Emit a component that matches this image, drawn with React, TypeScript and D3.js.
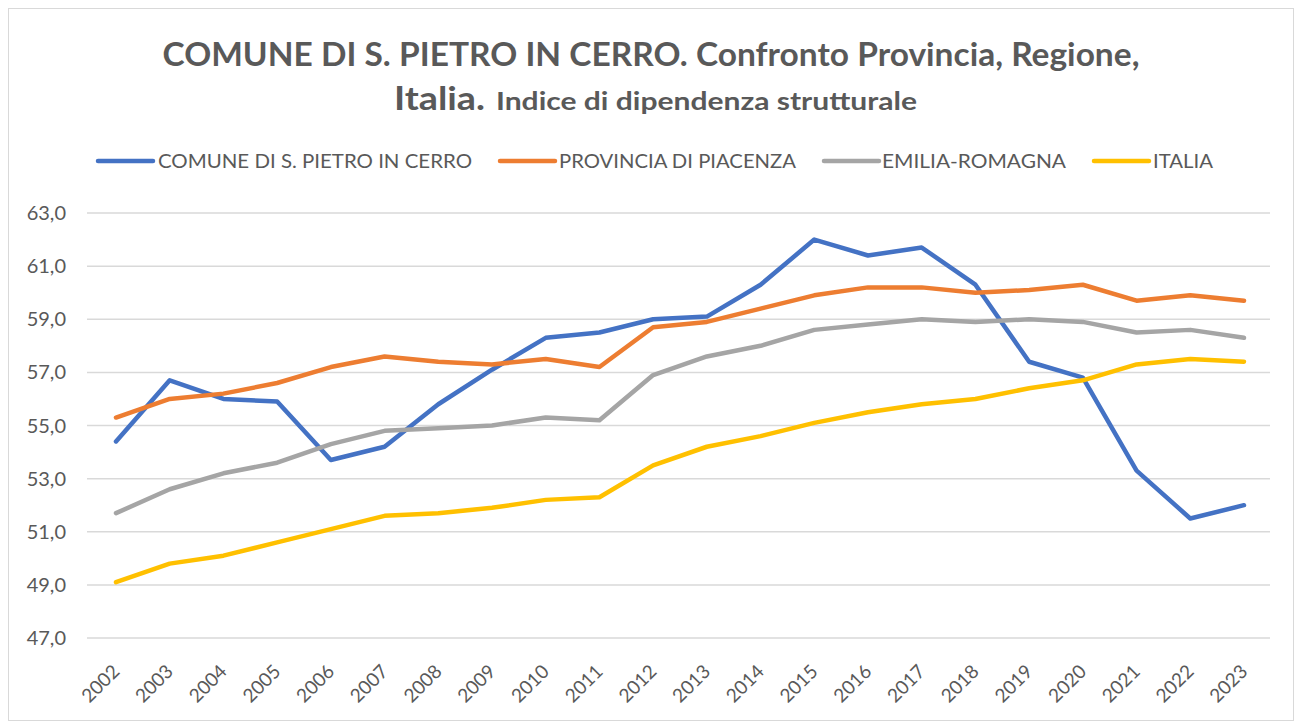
import React from "react";
import * as d3 from "d3";

const years = ["2002","2003","2004","2005","2006","2007","2008","2009","2010","2011","2012","2013","2014","2015","2016","2017","2018","2019","2020","2021","2022","2023"];
const comune = [54.4,56.7,56.0,55.9,53.7,54.2,55.8,57.1,58.3,58.5,59.0,59.1,60.3,62.0,61.4,61.7,60.3,57.4,56.8,53.3,51.5,52.0];
const provincia = [55.3,56.0,56.2,56.6,57.2,57.6,57.4,57.3,57.5,57.2,58.7,58.9,59.4,59.9,60.2,60.2,60.0,60.1,60.3,59.7,59.9,59.7];
const regione = [51.7,52.6,53.2,53.6,54.3,54.8,54.9,55.0,55.3,55.2,56.9,57.6,58.0,58.6,58.8,59.0,58.9,59.0,58.9,58.5,58.6,58.3];
const italia = [49.1,49.8,50.1,50.6,51.1,51.6,51.7,51.9,52.2,52.3,53.5,54.2,54.6,55.1,55.5,55.8,56.0,56.4,56.7,57.3,57.5,57.4];
const yTicks = [47,49,51,53,55,57,59,61,63];
const seriesNames = ["COMUNE DI S. PIETRO IN CERRO","PROVINCIA DI PIACENZA","EMILIA-ROMAGNA","ITALIA"];
const colors = ["#4472C4","#ED7D31","#A5A5A5","#FFC000"];

export default function App() {
  const W = 1301, H = 722;
  const x = d3.scalePoint<string>().domain(years).range([116, 1244]);
  const y = d3.scaleLinear().domain([47, 63]).range([638, 213]);
  const line = d3.line<number>().x((_, i) => x(years[i]) as number).y(d => y(d));
  const data = [comune, provincia, regione, italia];
  const font = "Lato, 'Open Sans', sans-serif";
  const fmt = (v: number) => v.toFixed(1).replace(".", ",");
  const legendX = [[98, 158], [500, 559], [824, 882], [1094, 1153]];
  const legendW = [314, 237, 184, 60];
  return (
    <svg width={W} height={H} style={{ position: "absolute", left: 0, top: 0, background: "#fff" }}>
      <rect x={8.5} y={8.5} width={1285} height={712} fill="#fff" stroke="#D9D9D9" strokeWidth={1} />
      <text x={651} y={66} textAnchor="middle" fill="#595959" fontFamily={font} fontWeight="bold" fontSize={33} textLength={977} lengthAdjust="spacingAndGlyphs">
        COMUNE DI S. PIETRO IN CERRO. Confronto Provincia, Regione,
      </text>
      <text x={394} y={110} fill="#595959" fontFamily={font} fontWeight="bold" fontSize={33} textLength={91} lengthAdjust="spacingAndGlyphs">Italia.</text>
      <text x={496} y={110} fill="#595959" fontFamily={font} fontWeight="bold" fontSize={25} textLength={421} lengthAdjust="spacingAndGlyphs">Indice di dipendenza strutturale</text>
      {seriesNames.map((n, i) => (
        <g key={n}>
          <line x1={legendX[i][0]} x2={legendX[i][0] + 55} y1={161} y2={161} stroke={colors[i]} strokeWidth={4.5} strokeLinecap="round" />
          <text x={legendX[i][1]} y={168} fill="#595959" fontFamily={font} fontSize={19} textLength={legendW[i]} lengthAdjust="spacingAndGlyphs">{n}</text>
        </g>
      ))}
      {yTicks.map(t => (
        <g key={t}>
          <line x1={87} x2={1270} y1={y(t)} y2={y(t)} stroke="#D9D9D9" strokeWidth={1.5} />
          <text x={66} y={y(t) + 7} textAnchor="end" fill="#595959" fontFamily={font} fontSize={20}>{fmt(t)}</text>
        </g>
      ))}
      {years.map(yr => (
        <text key={yr} transform={`translate(${(x(yr) as number) - 5},${663}) rotate(-45)`} textAnchor="end" fill="#595959" fontFamily={font} fontSize={19} dy="0.72em">{yr}</text>
      ))}
      {data.map((d, i) => (
        <path key={i} d={line(d) || ""} fill="none" stroke={colors[i]} strokeWidth={4.5} strokeLinecap="round" strokeLinejoin="round" />
      ))}
    </svg>
  );
}
